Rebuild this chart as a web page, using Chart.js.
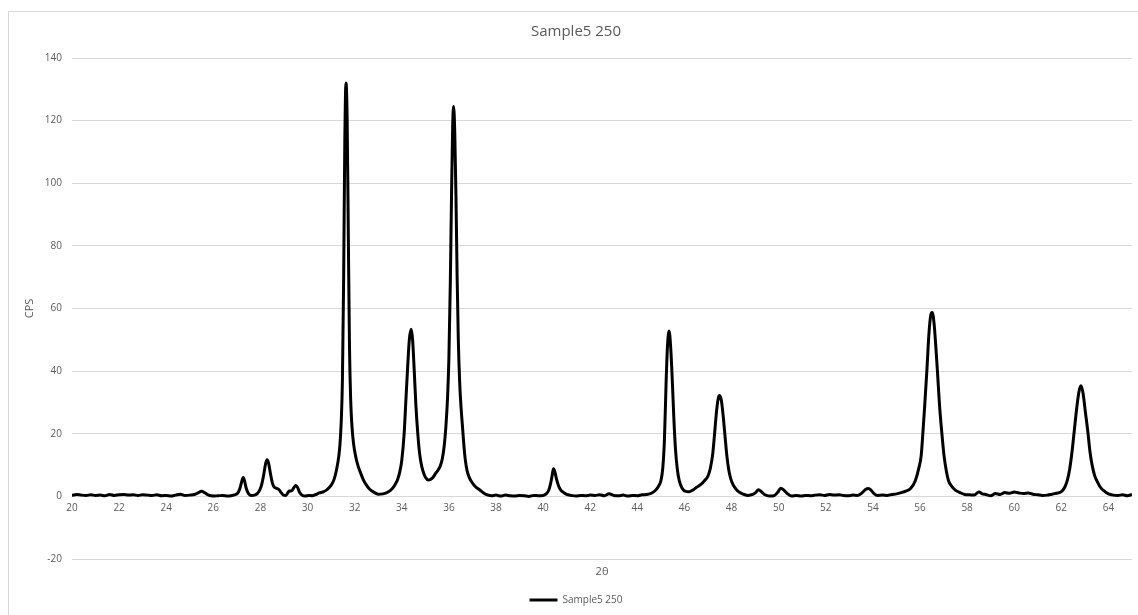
<!DOCTYPE html>
<html>
<head>
<meta charset="utf-8">
<title>Sample5 250</title>
<script src="https://cdn.jsdelivr.net/npm/chart.js@4.4.1/dist/chart.umd.min.js"></script>
<style>
  html, body { margin: 0; padding: 0; background: #ffffff; overflow: hidden; }
  #frame {
    position: absolute; left: 8px; top: 11px;
    width: 1150px; height: 620px;
    border: 1px solid #d9d9d9; box-sizing: border-box;
  }
  #xrd { position: absolute; left: 0; top: 0; }
</style>
</head>
<body>
<div id="frame"></div>
<canvas id="xrd" width="1138" height="615"></canvas>
<script>
const chartTitle = "Sample5 250";
const seriesName = "Sample5 250";
const xAxisTitle = "2θ";
const yAxisTitle = "CPS";

const xTickValues = [20, 22, 24, 26, 28, 30, 32, 34, 36, 38, 40, 42, 44, 46, 48, 50, 52, 54, 56, 58, 60, 62, 64];
const yTickValues = [-20, 0, 20, 40, 60, 80, 100, 120, 140];

// scan positions (2θ, degrees)
const twoTheta = [
  20.0, 20.2, 20.4, 20.6, 20.8, 21.0, 21.2, 21.4, 21.6, 21.8,
  22.0, 22.2, 22.4, 22.6, 22.8, 23.0, 23.2, 23.4, 23.6, 23.8,
  24.0, 24.2, 24.4, 24.6, 24.8, 25.0, 25.2, 25.35, 25.5, 25.65,
  25.8, 26.0, 26.2, 26.4, 26.6, 26.8, 26.95, 27.05, 27.13, 27.2,
  27.27, 27.33, 27.4, 27.5, 27.62, 27.75, 27.88, 27.98, 28.06, 28.14,
  28.22, 28.28, 28.34, 28.42, 28.5, 28.58, 28.68, 28.78, 28.88, 28.98,
  29.08, 29.15, 29.22, 29.32, 29.42, 29.5, 29.58, 29.66, 29.76, 29.9,
  30.05, 30.2, 30.35, 30.5, 30.65, 30.8, 30.92, 31.02, 31.13, 31.23,
  31.33, 31.38, 31.43, 31.48, 31.53, 31.58, 31.63, 31.68, 31.73, 31.78,
  31.83, 31.88, 31.95, 32.05, 32.15, 32.25, 32.37, 32.5, 32.65, 32.8,
  33.0, 33.2, 33.4, 33.6, 33.72, 33.82, 33.92, 34.0, 34.1, 34.17,
  34.24, 34.32, 34.4, 34.46, 34.53, 34.6, 34.68, 34.76, 34.85, 34.95,
  35.03, 35.12, 35.22, 35.32, 35.45, 35.55, 35.63, 35.72, 35.8, 35.87,
  35.94, 36.0, 36.06, 36.11, 36.16, 36.2, 36.25, 36.3, 36.35, 36.4,
  36.46, 36.52, 36.58, 36.64, 36.7, 36.77, 36.85, 36.95, 37.1, 37.3,
  37.55, 37.8, 38.0, 38.2, 38.4, 38.6, 38.8, 39.0, 39.2, 39.4,
  39.6, 39.8, 40.0, 40.15, 40.25, 40.33, 40.39, 40.44, 40.5, 40.57,
  40.65, 40.75, 40.88, 41.0, 41.2, 41.4, 41.6, 41.8, 42.0, 42.2,
  42.4, 42.6, 42.8, 43.0, 43.2, 43.4, 43.6, 43.8, 44.0, 44.2,
  44.4, 44.6, 44.75, 44.88, 45.0, 45.08, 45.15, 45.22, 45.28, 45.35,
  45.42, 45.49, 45.55, 45.62, 45.7, 45.78, 45.9, 46.05, 46.2, 46.35,
  46.5, 46.7, 46.85, 47.0, 47.1, 47.2, 47.28, 47.36, 47.44, 47.5,
  47.57, 47.64, 47.72, 47.8, 47.88, 47.97, 48.08, 48.2, 48.35, 48.5,
  48.7, 48.9, 49.02, 49.14, 49.28, 49.42, 49.6, 49.8, 49.95, 50.09,
  50.22, 50.38, 50.55, 50.75, 50.95, 51.15, 51.35, 51.55, 51.75, 51.95,
  52.15, 52.35, 52.55, 52.75, 52.95, 53.15, 53.35, 53.55, 53.7, 53.81,
  53.92, 54.05, 54.2, 54.4, 54.6, 54.8, 55.0, 55.2, 55.4, 55.6,
  55.8, 55.95, 56.05, 56.12, 56.2, 56.29, 56.38, 56.46, 56.52, 56.6,
  56.67, 56.74, 56.83, 56.93, 57.02, 57.12, 57.21, 57.35, 57.5, 57.7,
  57.9, 58.1, 58.3, 58.5, 58.65, 58.8, 59.0, 59.2, 59.4, 59.6,
  59.8, 60.0, 60.2, 60.4, 60.6, 60.8, 61.0, 61.2, 61.4, 61.6,
  61.8, 62.0, 62.15, 62.25, 62.35, 62.45, 62.55, 62.65, 62.75, 62.83,
  62.92, 63.02, 63.12, 63.22, 63.32, 63.42, 63.52, 63.65, 63.8, 64.0,
  64.2, 64.4, 64.6, 64.8, 65.0
];

// counts per second at each position
const cps = [
  0.3, 0.6, 0.4, 0.3, 0.5, 0.3, 0.4, 0.2, 0.6, 0.3,
  0.5, 0.6, 0.4, 0.5, 0.3, 0.5, 0.4, 0.3, 0.5, 0.2,
  0.3, 0.1, 0.4, 0.7, 0.3, 0.4, 0.6, 1.1, 1.6, 1.1,
  0.4, 0.1, 0.2, 0.3, 0.1, 0.3, 0.6, 1.2, 2.6, 4.6,
  6.0, 4.8, 2.5, 0.8, 0.3, 0.4, 1.0, 2.2, 4.0, 7.0,
  10.5, 11.7, 10.8, 7.5, 4.5, 3.0, 2.6, 2.2, 1.2, 0.4,
  0.3, 1.0, 1.7, 1.8, 2.8, 3.5, 2.8, 1.3, 0.4, 0.1,
  0.3, 0.2, 0.6, 1.1, 1.4, 2.0, 2.8, 3.8, 5.5, 8.5,
  13, 17, 24, 37, 68, 112, 132, 121, 84, 48,
  31, 23, 17, 12.5, 9.6, 7.5, 5.3, 3.6, 2.2, 1.4,
  0.7, 0.8, 1.3, 2.5, 3.8, 5.3, 8.0, 11.5, 20, 30,
  40, 50, 53.4, 50, 40, 29, 20, 13.5, 9.5, 7.0,
  5.8, 5.2, 5.4, 6.0, 7.5, 8.5, 9.6, 12, 16, 22,
  31, 44, 68, 95, 118, 124.5, 116, 96, 70, 50,
  36, 28, 22, 16, 11.5, 8.3, 6.3, 4.8, 3.3, 2.1,
  0.7, 0.2, 0.4, 0.1, 0.4, 0.2, 0.1, 0.3, 0.2, 0.0,
  0.3, 0.2, 0.3, 0.9, 2.2, 4.5, 7.0, 8.8, 7.8, 5.5,
  3.5, 2.0, 1.2, 0.6, 0.3, 0.1, 0.3, 0.2, 0.4, 0.3,
  0.5, 0.2, 0.8, 0.3, 0.2, 0.4, 0.1, 0.3, 0.2, 0.5,
  0.6, 1.0, 1.8, 3.0, 5.0, 9.0, 18, 36, 48, 52.8,
  47, 36, 25, 15, 8.5, 5.0, 2.6, 1.6, 1.5, 2.0,
  2.8, 3.8, 5.0, 6.5, 9.0, 13.5, 20, 27, 31.5, 32.2,
  30.5, 26, 19.5, 13, 8.5, 5.5, 3.5, 2.2, 1.2, 0.7,
  0.3, 0.6, 1.2, 2.1, 1.4, 0.5, 0.1, 0.2, 1.2, 2.6,
  2.0, 0.8, 0.1, 0.3, 0.1, 0.3, 0.2, 0.4, 0.5, 0.3,
  0.6, 0.4, 0.5, 0.3, 0.2, 0.4, 0.3, 1.2, 2.3, 2.5,
  2.0, 0.9, 0.3, 0.4, 0.3, 0.6, 0.8, 1.2, 1.7, 2.5,
  5.0, 9.0, 13, 20, 29, 40, 52, 58, 58.7, 55,
  48, 40, 29, 20, 13, 8.0, 5.0, 3.2, 2.0, 1.2,
  0.6, 0.5, 0.4, 1.4, 0.8, 0.6, 0.2, 0.9, 0.6, 1.2,
  1.0, 1.4, 1.1, 0.9, 1.1, 0.7, 0.5, 0.3, 0.4, 0.7,
  1.0, 1.5, 3.0, 5.0, 8.5, 14, 21, 28, 33.5, 35.3,
  33, 27, 21, 14, 9.5, 6.5, 4.8, 3.0, 1.8, 0.8,
  0.4, 0.3, 0.5, 0.2, 0.6
];

const textColor = "#595959";
const gridColor = "#d9d9d9";
const fontFamily = "'Open Sans', 'Noto Sans', sans-serif";

const useTickList = (list) => (scale) => {
  scale.ticks = list.map((value) => ({ value }));
};

const ctx = document.getElementById("xrd").getContext("2d");

new Chart(ctx, {
  type: "line",
  data: {
    datasets: [
      {
        label: seriesName,
        data: twoTheta.map((x, i) => ({ x, y: cps[i] })),
        borderColor: "#000000",
        backgroundColor: "#000000",
        borderWidth: 3,
        borderJoinStyle: "round",
        pointRadius: 0,
        pointHoverRadius: 0,
        pointStyle: "line",
        cubicInterpolationMode: "monotone",
        fill: false,
        xAxisID: "x",
        yAxisID: "y",
      },
    ],
  },
  options: {
    responsive: false,
    animation: false,
    devicePixelRatio: 1,
    layout: {
      padding: { left: 20, right: 6, top: 11, bottom: 0 },
    },
    scales: {
      x: {
        type: "linear",
        position: { y: 0 },
        min: 20,
        max: 65,
        afterBuildTicks: useTickList(xTickValues),
        grid: { display: false, drawTicks: false },
        border: { display: false },
        ticks: {
          color: textColor,
          font: { family: fontFamily, size: 10 },
          padding: 6,
          maxRotation: 0,
          autoSkip: false,
        },
      },
      xTitle: {
        type: "linear",
        axis: "x",
        position: "bottom",
        min: 20,
        max: 65,
        ticks: { display: false },
        grid: { display: false, drawTicks: false },
        border: { display: false },
        title: {
          display: true,
          text: xAxisTitle,
          color: textColor,
          font: { family: fontFamily, size: 11 },
          padding: { top: 0, bottom: 10 },
        },
        afterFit: (scale) => {
          scale.height = 29;
        },
      },
      y: {
        type: "linear",
        min: -20,
        max: 140,
        afterBuildTicks: useTickList(yTickValues),
        grid: { color: gridColor, lineWidth: 1, drawTicks: false },
        border: { display: false },
        ticks: {
          color: textColor,
          font: { family: fontFamily, size: 10 },
          padding: 10,
        },
        title: {
          display: true,
          text: yAxisTitle,
          color: textColor,
          font: { family: fontFamily, size: 11 },
          padding: { top: 3, bottom: 0 },
        },
        afterFit: (scale) => {
          scale.width = 52;
        },
      },
    },
    plugins: {
      title: {
        display: true,
        text: chartTitle,
        color: textColor,
        font: { family: fontFamily, size: 15, weight: "normal" },
        padding: { top: 12, bottom: 17 },
      },
      legend: {
        position: "bottom",
        labels: {
          usePointStyle: true,
          pointStyle: "line",
          pointStyleWidth: 28,
          padding: 7,
          color: textColor,
          font: { family: fontFamily, size: 10 },
        },
      },
      tooltip: { enabled: false },
    },
  },
});
</script>
</body>
</html>
